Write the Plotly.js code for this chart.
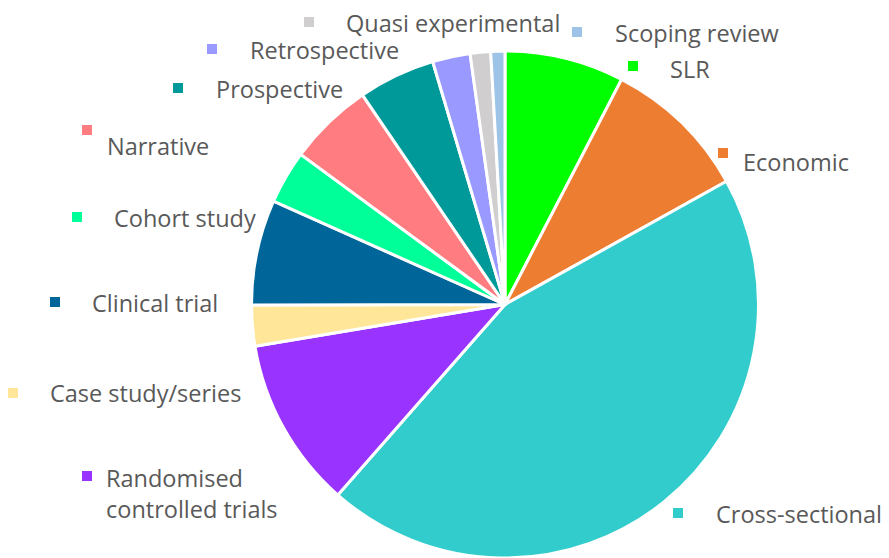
<!DOCTYPE html>
<html>
<head>
<meta charset="utf-8">
<script src="https://cdn.plot.ly/plotly-3.0.1.min.js"></script>
<style>html,body{margin:0;padding:0;background:#fff;}#chart{width:889px;height:558px;}</style>
</head>
<body>
<div id="chart"></div>
<script>
// Data (percent share of studies by design), clockwise from 12 o'clock
const categories = ["SLR", "Economic", "Cross-sectional", "Randomised controlled trials",
  "Case study/series", "Clinical trial", "Cohort study", "Narrative", "Prospective",
  "Retrospective", "Quasi experimental", "Scoping review"];
const values = [7.6, 9.3, 44.5, 10.9, 2.6, 6.7, 3.4, 5.4, 4.9, 2.4, 1.3, 0.9];
const labelTexts = ["SLR", "Economic", "Cross-sectional", "Randomised<br>controlled trials",
  "Case study/series", "Clinical trial", "Cohort study", "Narrative", "Prospective",
  "Retrospective", "Quasi experimental", "Scoping review"];

// Styling
const colors = ["#00FF00", "#ED7D31", "#33CCCC", "#9933FF", "#FFE699", "#006699",
  "#00FF99", "#FF7C80", "#009999", "#9999FF", "#D0CECE", "#9DC3E6"];
// label layout in pixels: [marker cx, marker cy, text left x, text center y]
const labelLayout = [
  [633, 66, 668, 69],
  [723, 153, 741, 162],
  [678, 513, 714, 514],
  [87, 476, 104, 493],
  [13, 393, 48, 393],
  [55, 302, 90, 303],
  [77, 217, 112, 218],
  [87, 130, 105, 146],
  [178, 88, 214, 89],
  [212, 49, 248, 50],
  [309, 22, 344, 23],
  [577, 32, 613, 33]
];

const W = 889, H = 558;
const px = x => x / W;
const py = y => 1 - y / H;

const cx = 505, cy = 304.5, r = 253.5;
const trace = {
  type: "pie",
  labels: categories,
  values: values,
  sort: false,
  direction: "clockwise",
  rotation: 0,
  textinfo: "none",
  textposition: "none",
  hoverinfo: "label+percent",
  marker: { colors: colors, line: { color: "#FFFFFF", width: 3 } },
  domain: { x: [px(cx - r), px(cx + r)], y: [1 - (cy + r) / H, 1 - (cy - r) / H] }
};

const annotations = [];
const shapes = [];
const ms = 5;
categories.forEach((c, i) => {
  const [mx, my, tx, ty] = labelLayout[i];
  shapes.push({
    type: "rect", xref: "paper", yref: "paper",
    x0: px(mx - ms), x1: px(mx + ms), y0: py(my + ms), y1: py(my - ms),
    fillcolor: colors[i], line: { width: 0 }
  });
  annotations.push({
    xref: "paper", yref: "paper", x: px(tx), y: py(ty),
    xanchor: "left", yanchor: "middle", align: "left",
    text: labelTexts[i], showarrow: false,
    font: { family: "Open Sans, sans-serif", size: 23.5, color: "#595959" }
  });
});

const layout = {
  width: W, height: H,
  margin: { l: 0, r: 0, t: 0, b: 0 },
  paper_bgcolor: "#FFFFFF",
  showlegend: false,
  annotations: annotations,
  shapes: shapes
};

Plotly.newPlot("chart", [trace], layout, { displayModeBar: false, staticPlot: true });
</script>
</body>
</html>
